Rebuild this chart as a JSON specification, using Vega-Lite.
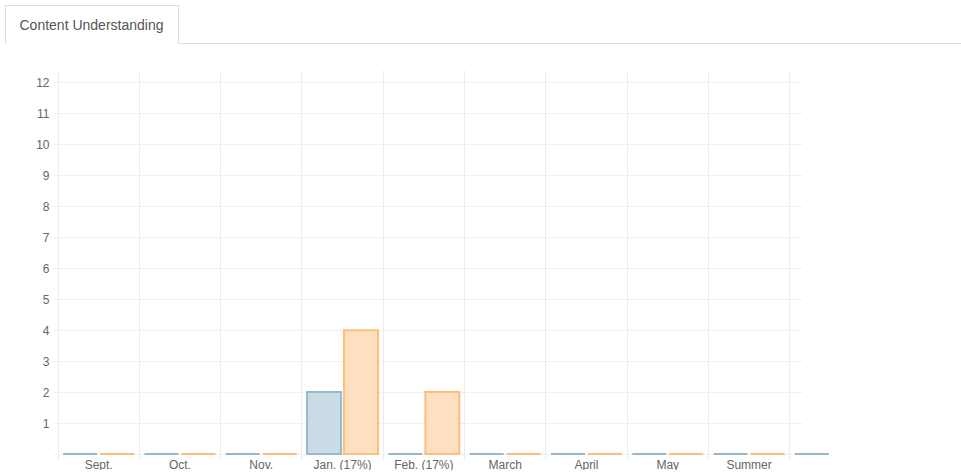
{
  "$schema": "https://vega.github.io/schema/vega-lite/v6.json",
  "background": "white",
  "padding": {"left": 5, "top": 5, "right": 0, "bottom": 0},
  "config": {
    "view": {"stroke": null},
    "font": "Liberation Sans",
    "concat": {"spacing": 0}
  },
  "spacing": 27,
  "vconcat": [
    {
      "width": 903,
      "height": 38,
      "data": {"values": [{"tab": "Content Understanding"}]},
      "layer": [
        {
          "mark": {"type": "text", "fontSize": 14, "color": "#555555", "font": "Liberation Sans"},
          "encoding": {
            "text": {"field": "tab"},
            "x": {
              "datum": 0.5,
              "type": "quantitative",
              "scale": {"domain": [0, 1], "range": [-53, 120]},
              "axis": {"orient": "top", "title": null, "labels": false, "ticks": false, "grid": false, "domainColor": "#dddddd"}
            },
            "y": {
              "datum": 0.45,
              "type": "quantitative",
              "scale": {"domain": [0, 1]},
              "axis": {"orient": "left", "offset": 53, "title": null, "labels": false, "ticks": false, "grid": false, "domainColor": "#dddddd"}
            }
          }
        },
        {
          "mark": {"type": "point", "opacity": 0, "size": 1},
          "encoding": {
            "x": {
              "datum": 0.5,
              "type": "quantitative",
              "scale": {"domain": [0, 1], "range": [120, 903]},
              "axis": {"orient": "bottom", "title": null, "labels": false, "ticks": false, "grid": false, "domainColor": "#dddddd"}
            },
            "y": {
              "datum": 0.5,
              "type": "quantitative",
              "axis": {"orient": "right", "offset": -783, "title": null, "labels": false, "ticks": false, "grid": false, "domainColor": "#dddddd"}
            }
          }
        }
      ],
      "resolve": {"scale": {"x": "independent"}, "axis": {"x": "independent", "y": "independent"}}
    },
    {
      "width": 744,
      "height": 384,
      "data": {
        "values": [
          {"month": "Sept.", "series": "A", "value": 0},
          {"month": "Sept.", "series": "B", "value": 0},
          {"month": "Oct.", "series": "A", "value": 0},
          {"month": "Oct.", "series": "B", "value": 0},
          {"month": "Nov.", "series": "A", "value": 0},
          {"month": "Nov.", "series": "B", "value": 0},
          {"month": "Jan. (17%)", "series": "A", "value": 2},
          {"month": "Jan. (17%)", "series": "B", "value": 4},
          {"month": "Feb. (17%)", "series": "A", "value": 0},
          {"month": "Feb. (17%)", "series": "B", "value": 2},
          {"month": "March", "series": "A", "value": 0},
          {"month": "March", "series": "B", "value": 0},
          {"month": "April", "series": "A", "value": 0},
          {"month": "April", "series": "B", "value": 0},
          {"month": "May", "series": "A", "value": 0},
          {"month": "May", "series": "B", "value": 0},
          {"month": "Summer", "series": "A", "value": 0},
          {"month": "Summer", "series": "B", "value": 0},
          {"month": "Extra", "series": "A", "value": 0}
        ]
      },
      "layer": [
        {
          "mark": {"type": "point", "opacity": 0},
          "encoding": {
            "y": {
              "field": "value",
              "type": "quantitative",
              "scale": {"domain": [0, 12.4], "nice": false},
              "axis": {
                "title": null,
                "domain": false,
                "grid": true,
                "gridColor": "#f0f0f0",
                "tickColor": "#f0f0f0",
                "tickSize": 5,
                "values": [0, 1, 2, 3, 4, 5, 6, 7, 8, 9, 10, 11, 12],
                "labelColor": "#666666",
                "labelFontSize": 12,
                "labelPadding": 4,
                "labelExpr": "datum.value == 0 ? '' : datum.label"
              }
            }
          }
        },
        {
          "mark": {"type": "bar", "strokeWidth": 2},
          "encoding": {
            "x": {
              "field": "month",
              "type": "nominal",
              "sort": ["Sept.", "Oct.", "Nov.", "Jan. (17%)", "Feb. (17%)", "March", "April", "May", "Summer", "Extra"],
              "scale": {"range": [0, 813], "paddingInner": 0, "paddingOuter": 0},
              "axis": {
                "title": null,
                "domain": false,
                "grid": true,
                "gridColor": "#ebebeb",
                "tickColor": "#ebebeb",
                "tickSize": 5,
                "bandPosition": 0,
                "labelAngle": 0,
                "labelColor": "#666666",
                "labelFontSize": 12,
                "labelPadding": 0,
                "labelExpr": "datum.value == 'Extra' ? '' : datum.label"
              }
            },
            "xOffset": {
              "field": "series",
              "type": "nominal",
              "scale": {"paddingInner": 0.08, "paddingOuter": 0.14}
            },
            "y": {
              "field": "value",
              "type": "quantitative",
              "scale": {"domain": [0, 12.4], "nice": false},
              "axis": null
            },
            "color": {
              "field": "series",
              "type": "nominal",
              "scale": {"domain": ["A", "B"], "range": ["#c9dce6", "#fedfc0"]},
              "legend": null
            },
            "stroke": {
              "field": "series",
              "type": "nominal",
              "scale": {"domain": ["A", "B"], "range": ["#94b9cd", "#fdbe7d"]},
              "legend": null
            }
          }
        }
      ],
      "resolve": {"scale": {"x": "independent", "xOffset": "independent"}, "axis": {"y": "independent"}}
    }
  ]
}
